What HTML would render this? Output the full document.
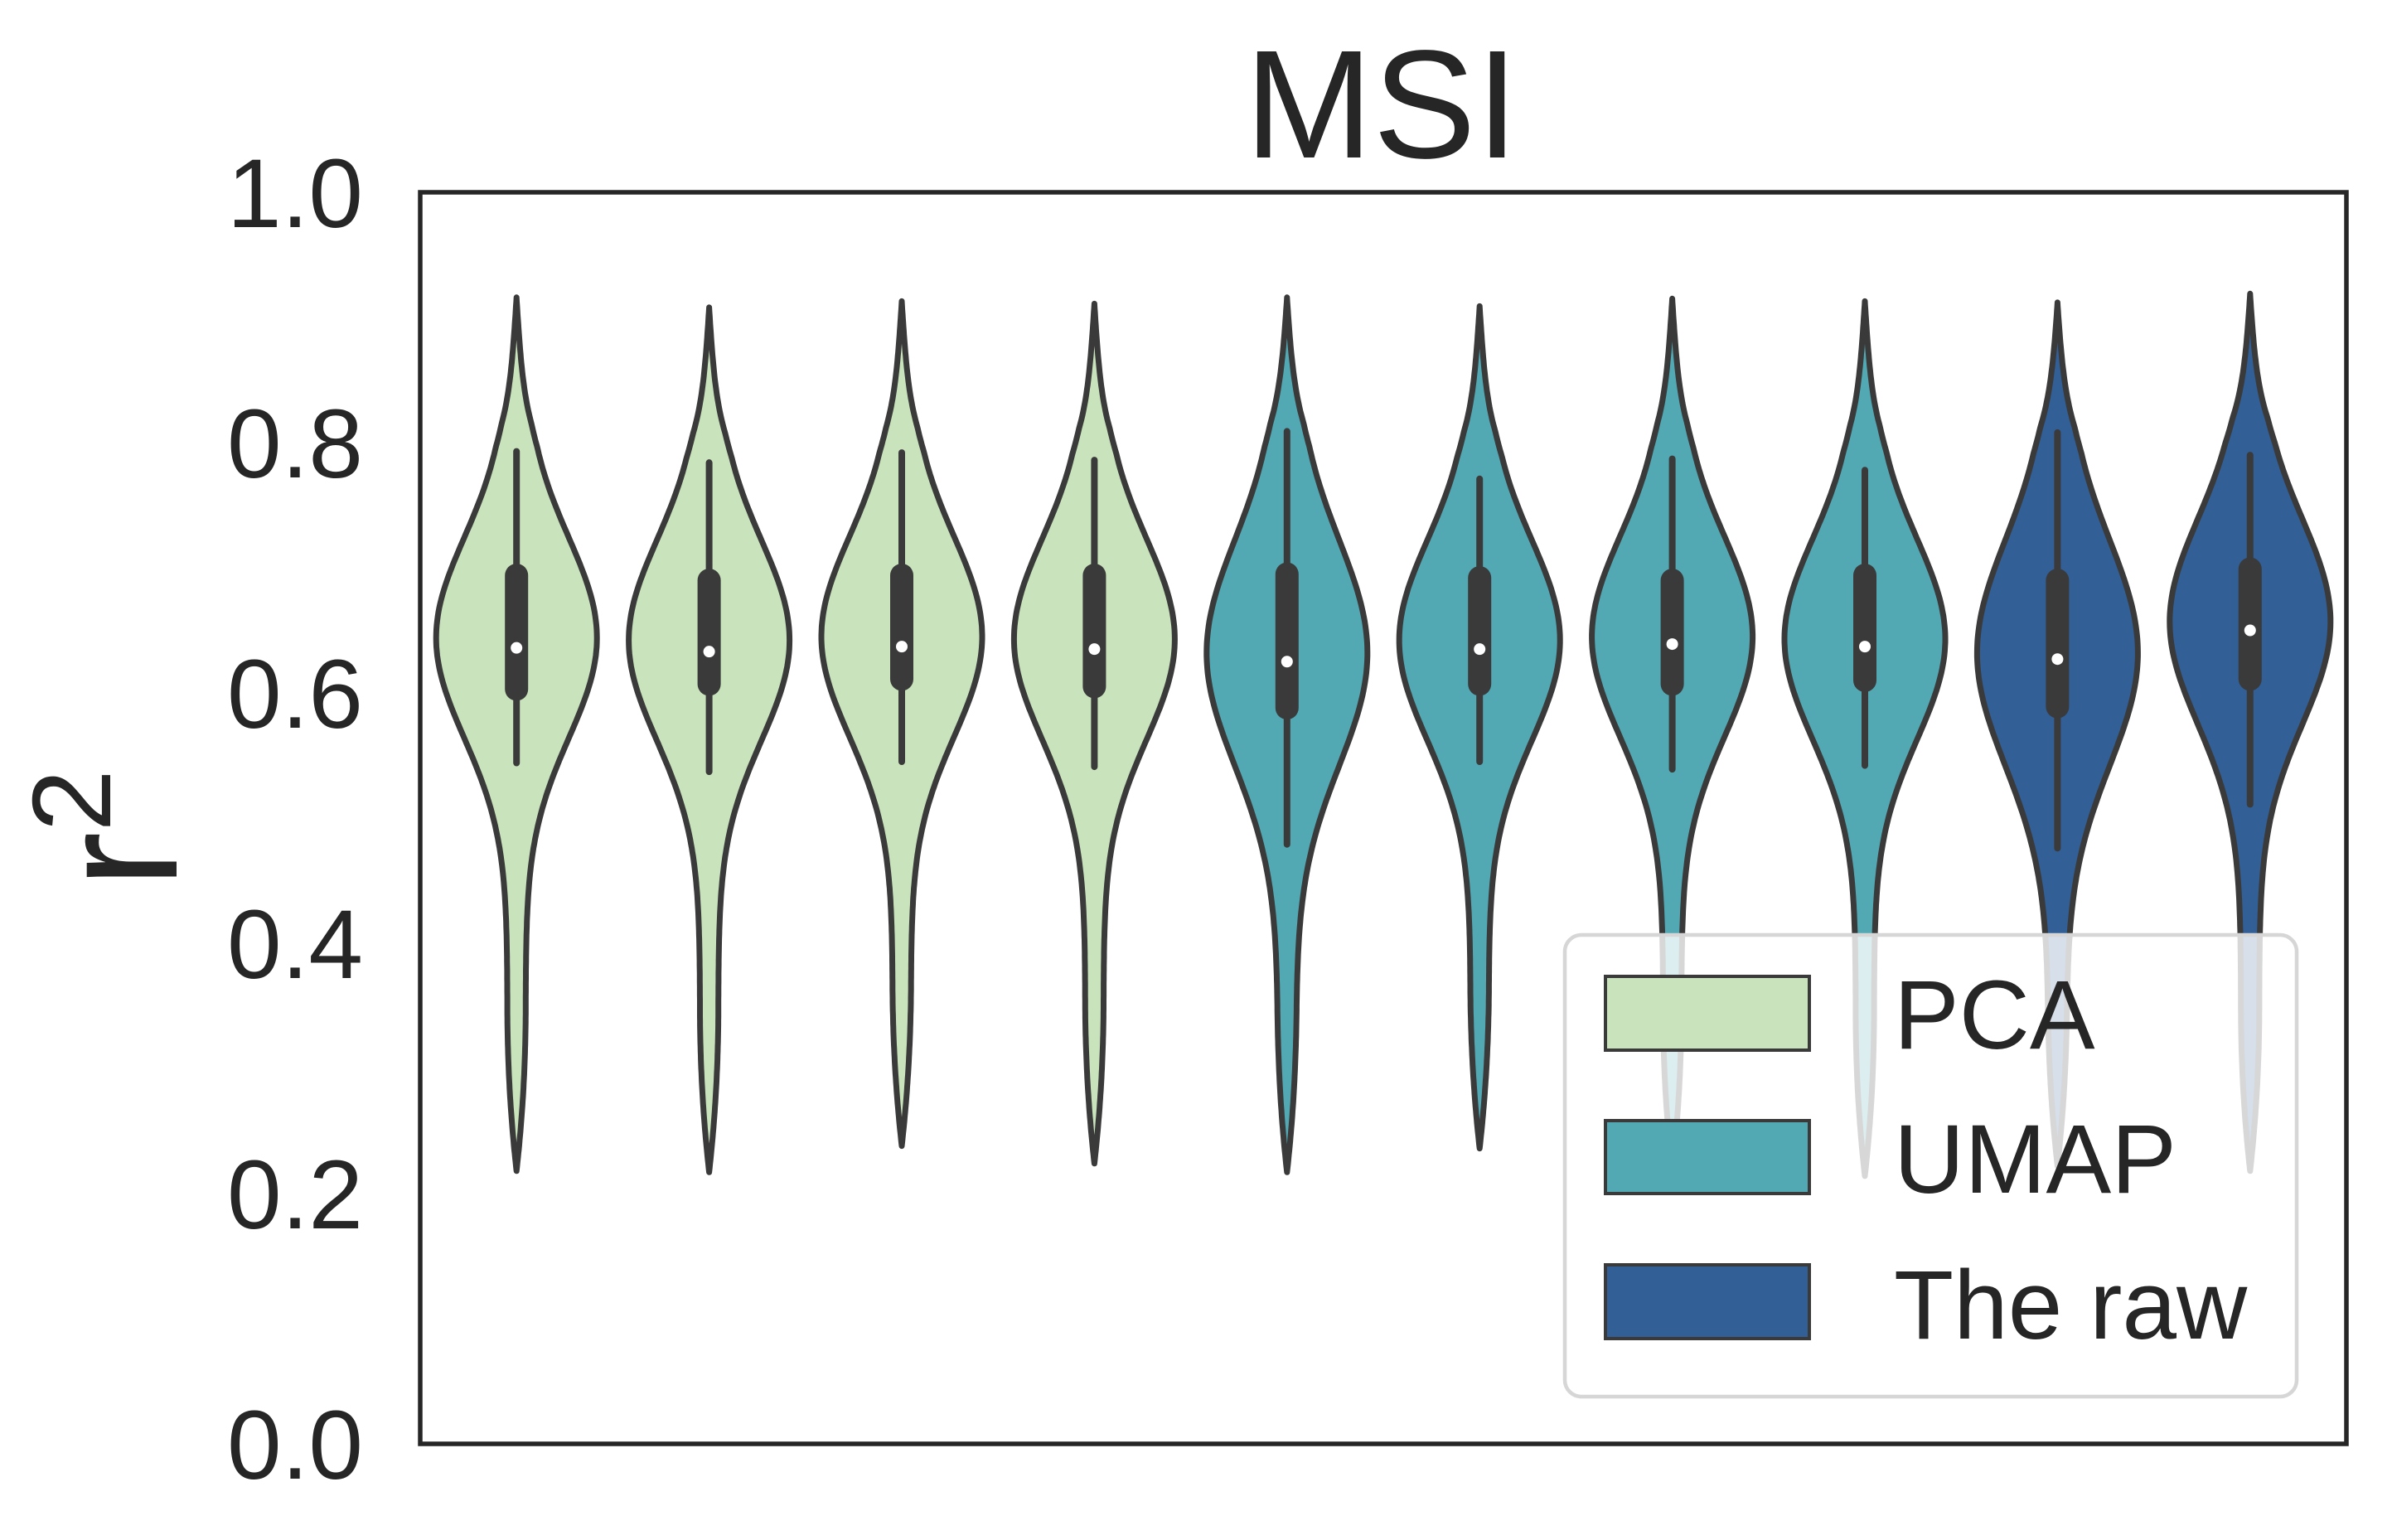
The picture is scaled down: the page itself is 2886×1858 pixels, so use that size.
<!DOCTYPE html>
<html><head><meta charset="utf-8"><style>
html,body{margin:0;padding:0;background:#fff;}
svg{display:block;font-family:"Liberation Sans",Arial,sans-serif;}
</style></head><body>
<svg id="chart" width="2886" height="1858" viewBox="0 0 2886 1858" xmlns="http://www.w3.org/2000/svg">
<rect x="0" y="0" width="2886" height="1858" fill="#fff"/>
<text x="1667" y="190" font-size="186" fill="#262626" text-anchor="middle">MSI</text>
<g id="yticks"></g>
<text transform="translate(213,1000) rotate(-90)" font-size="205" fill="#262626" text-anchor="middle">r<tspan font-size="135" dy="-80">2</tspan></text>
<g id="violins"></g>
<rect x="507" y="232" width="2324" height="1510" fill="none" stroke="#262626" stroke-width="5.5"/>
<g id="legend">
<rect x="1888" y="1128" width="883" height="557" rx="20" fill="#fff" fill-opacity="0.8" stroke="#d6d6d6" stroke-width="4.5"/>
<g><rect x="1937" y="1178" width="246" height="89" fill="#c9e4bc" stroke="#3a3a3a" stroke-width="4"/><text x="2285" y="1265" font-size="118" fill="#262626">PCA</text></g>
<g><rect x="1937" y="1352" width="246" height="88" fill="#52a9b4" stroke="#3a3a3a" stroke-width="4"/><text x="2285" y="1439" font-size="118" fill="#262626">UMAP</text></g>
<g><rect x="1937" y="1526" width="246" height="89" fill="#325f96" stroke="#3a3a3a" stroke-width="4"/><text x="2285" y="1615" font-size="118" fill="#262626">The raw</text></g>
</g>
</svg>
<script>
const groups = ["PCA","PCA","PCA","PCA","UMAP","UMAP","UMAP","UMAP","The raw","The raw"];
const mins = [0.218,0.217,0.238,0.224,0.217,0.236,0.218,0.214,0.222,0.218];
const maxs = [0.916,0.908,0.913,0.911,0.916,0.909,0.915,0.913,0.912,0.919];
const whiskLo = [0.544,0.537,0.545,0.541,0.479,0.545,0.539,0.542,0.476,0.511];
const whiskHi = [0.793,0.784,0.792,0.786,0.809,0.771,0.787,0.778,0.808,0.790];
const q1 = [0.603,0.607,0.611,0.605,0.588,0.607,0.607,0.610,0.589,0.611];
const q3 = [0.694,0.690,0.694,0.694,0.695,0.692,0.690,0.694,0.690,0.699];
const medians = [0.636,0.633,0.637,0.635,0.625,0.635,0.639,0.637,0.627,0.650];
const modes = [0.644,0.642,0.645,0.643,0.632,0.642,0.645,0.643,0.632,0.657];
const spreads = [0.080,0.080,0.080,0.080,0.090,0.080,0.080,0.080,0.090,0.082];
const yTicks = ["0.0","0.2","0.4","0.6","0.8","1.0"];
const colors = {"PCA":"#c9e4bc","UMAP":"#52a9b4","The raw":"#325f96"};

const NS="http://www.w3.org/2000/svg";
const L=507,R=2831,T=232,B=1742;
const y=v=>B-v*(B-T);
const band=(R-L)/groups.length;
const xc=i=>L+band*(i+0.5);

const yt=document.getElementById('yticks');
yTicks.forEach(t=>{
  const e=document.createElementNS(NS,'text');
  
  
  e.setAttribute('x',438);e.setAttribute('y',y(parseFloat(t))+42);
  e.setAttribute('font-size','118');e.setAttribute('fill','#262626');e.setAttribute('text-anchor','end');
  e.textContent=t;yt.appendChild(e);
});

const vg=document.getElementById('violins');
function mk(tag,attrs){const e=document.createElementNS(NS,tag);for(const k in attrs)e.setAttribute(k,attrs[k]);return e;}
groups.forEach((g,i)=>{
  const cx=xc(i),lo=mins[i],hi=maxs[i],mu=modes[i],sd=spreads[i];
  const hw=v=>{
    const gs=86*Math.exp(-((v-mu)*(v-mu))/(2*sd*sd));
    const a=Math.min(1,Math.max(0,(v-lo)/0.13));
    const tail=11*(1-(1-a)*(1-a))*Math.min(1,Math.max(0,(hi-v)/0.12));
    return gs*Math.min(1,Math.max(0,(hi-v)/0.1))+tail;
  };
  const N=200,left=[],right=[];
  for(let k=0;k<=N;k++){const v=lo+(hi-lo)*k/N;const w=hw(v);right.push((cx+w).toFixed(1)+','+y(v).toFixed(1));left.push((cx-w).toFixed(1)+','+y(v).toFixed(1));}
  const d='M'+right.join(' L')+' L'+left.reverse().join(' L')+' Z';
  const grp=mk('g',{});
  
  
  const p=mk('path',{d:d,fill:colors[g],stroke:'#3a3a3a','stroke-width':7,'stroke-linejoin':'round'});
  
  
  grp.appendChild(p);
  const w=mk('line',{x1:cx,x2:cx,y1:y(whiskLo[i]),y2:y(whiskHi[i]),stroke:'#3a3a3a','stroke-width':8,'stroke-linecap':'round'});
  
  
  grp.appendChild(w);
  const b=mk('line',{x1:cx,x2:cx,y1:y(q1[i]),y2:y(q3[i]),stroke:'#3a3a3a','stroke-width':28,'stroke-linecap':'round'});
  
  
  grp.appendChild(b);
  const m=mk('circle',{cx:cx,cy:y(medians[i]),r:7,fill:'#fff'});
  
  
  grp.appendChild(m);
  vg.appendChild(grp);
});
</script>
</body></html>
